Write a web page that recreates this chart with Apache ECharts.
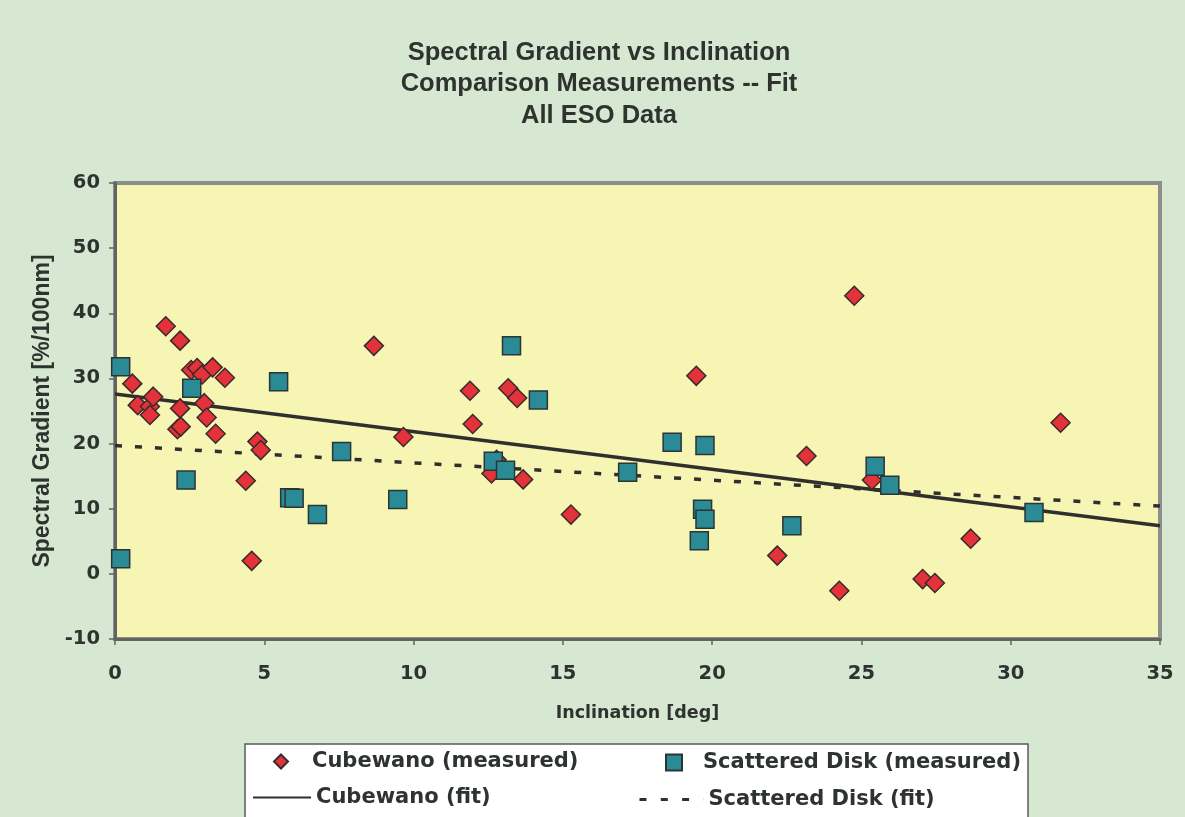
<!DOCTYPE html>
<html>
<head>
<meta charset="utf-8">
<title>Spectral Gradient vs Inclination</title>
<script src="https://cdn.jsdelivr.net/npm/echarts@6/dist/echarts.min.js"></script>
<style>
  html, body { margin: 0; padding: 0; background: #d6e8d2; }
  #chart { width: 1185px; height: 817px; }
</style>
</head>
<body>
<div id="chart"></div>
<script>
// inclination [deg], spectral gradient [%/100nm]
var cubewano = [
  [0.58, 29.2], [0.76, 25.9], [1.17, 25.7], [1.17, 24.4], [1.28, 27.2],
  [1.70, 38.0], [2.09, 22.2], [2.20, 22.6], [2.18, 35.8], [2.18, 25.4],
  [2.55, 31.3], [2.75, 31.6], [2.92, 30.6], [2.99, 26.2], [3.07, 24.0],
  [3.27, 31.7], [3.37, 21.5], [3.68, 30.1], [4.38, 14.3], [4.58, 2.0],
  [4.77, 20.3], [4.88, 19.0], [8.67, 35.0], [9.66, 21.0], [11.89, 28.1],
  [11.98, 23.0], [12.61, 15.4], [12.78, 17.5], [13.17, 28.5], [13.47, 27.0],
  [13.67, 14.5], [15.27, 9.1], [19.47, 30.4], [22.18, 2.8], [23.16, 18.1],
  [24.26, -2.6], [24.76, 42.7], [25.35, 14.4], [27.05, -0.8], [27.46, -1.4],
  [28.66, 5.4], [31.67, 23.2]
]
var scattered = [
  [0.19, 31.8], [0.19, 2.3], [2.38, 14.4], [2.57, 28.5], [5.48, 29.5],
  [5.85, 11.7], [6.00, 11.6], [6.78, 9.1], [7.59, 18.8], [9.47, 11.4],
  [12.67, 17.3], [13.08, 15.9], [13.28, 35.0], [14.18, 26.7], [17.17, 15.6],
  [18.66, 20.2], [19.57, 5.1], [19.68, 9.9], [19.76, 8.4], [19.76, 19.7],
  [22.67, 7.4], [25.46, 16.5], [25.95, 13.6], [30.78, 9.4]
]
// linear fits, end points at 0 and 35 deg
var cubewanoFit = [[0, 27.6], [35, 7.4]]
var scatteredFit = [[0, 19.7], [35, 10.4]]

var titleLines = ['Spectral Gradient vs Inclination', 'Comparison Measurements -- Fit', 'All ESO Data']

var font = '"DejaVu Sans", "Liberation Sans", Arial, sans-serif'
var arial = '"Liberation Sans", Arial, Helvetica, sans-serif'
var textColor = '#2e332f'

// legend entries sit in a hand placed box, one legend component per entry
function legendText(padLeft) {
  return {
    fontFamily: font,
    fontSize: 21,
    fontWeight: 'bold',
    color: textColor,
    padding: [0, 0, 0, padLeft]
  }
}
var hiddenDot = { color: 'rgba(0,0,0,0)', borderWidth: 0, opacity: 0 }

var chart = echarts.init(document.getElementById('chart'))
var option = {
  backgroundColor: '#d6e8d2',
  textStyle: { fontFamily: font },
  title: {
    text: titleLines.join('\n'),
    left: 594,
    top: 32,
    textAlign: 'center',
    textStyle: {
      fontFamily: arial,
      fontSize: 25.5,
      fontWeight: 'bold',
      color: textColor,
      lineHeight: 31.5
    }
  },
  grid: {
    left: 115,
    top: 183,
    right: 25,
    bottom: 178,
    show: true,
    backgroundColor: '#f7f5b4',
    borderColor: '#8e8f8c',
    borderWidth: 4
  },
  xAxis: {
    type: 'value',
    min: 0,
    max: 35,
    interval: 5,
    name: 'Inclination [deg]',
    nameLocation: 'middle',
    nameGap: 65,
    nameTextStyle: { fontFamily: font, fontSize: 17.5, fontWeight: 'bold', color: textColor },
    axisLine: { onZero: false, lineStyle: { color: '#626461', width: 3 } },
    axisTick: { show: true, length: 6, lineStyle: { color: '#626461', width: 1.5 } },
    axisLabel: { margin: 25, fontFamily: font, fontSize: 19.5, fontWeight: 'bold', color: textColor },
    splitLine: { show: false }
  },
  yAxis: {
    type: 'value',
    min: -10,
    max: 60,
    interval: 10,
    name: 'Spectral Gradient [%/100nm]',
    nameLocation: 'middle',
    nameGap: 61,
    nameTextStyle: { fontFamily: arial, fontSize: 23, fontWeight: 'bold', color: textColor },
    axisLine: { show: true, onZero: false, lineStyle: { color: '#626461', width: 3 } },
    axisTick: { show: true, length: 6, lineStyle: { color: '#626461', width: 1.5 } },
    axisLabel: { margin: 15, fontFamily: font, fontSize: 19.5, fontWeight: 'bold', color: textColor },
    splitLine: { show: false }
  },
  legend: [
    {
      data: ['Cubewano (measured)'],
      left: 273, top: 751, padding: 0,
      itemWidth: 14, itemHeight: 14,
      textStyle: legendText(19)
    },
    {
      data: [{ name: 'Cubewano (fit)', itemStyle: hiddenDot }],
      left: 252, top: 787, padding: 0,
      itemWidth: 58, itemHeight: 14,
      textStyle: legendText(0)
    },
    {
      data: ['Scattered Disk (measured)'],
      left: 665, top: 752, padding: 0,
      itemWidth: 16, itemHeight: 16,
      textStyle: legendText(16)
    },
    {
      data: [{ name: 'Scattered Disk (fit)', lineStyle: { type: [7, 14.3], width: 3 }, itemStyle: hiddenDot }],
      left: 638, top: 789, padding: 0,
      itemWidth: 64, itemHeight: 14,
      textStyle: legendText(0)
    }
  ],
  graphic: [
    {
      type: 'rect',
      z: -1,
      shape: { x: 245, y: 744, width: 783, height: 90 },
      style: { fill: '#ffffff', stroke: '#5a5c5a', lineWidth: 1.5 }
    }
  ],
  series: [
    {
      name: 'Cubewano (fit)',
      type: 'line',
      data: cubewanoFit,
      symbol: 'none',
      lineStyle: { color: '#2f302e', width: 3.5 },
      itemStyle: { color: '#2f302e' },
      z: 1
    },
    {
      name: 'Scattered Disk (fit)',
      type: 'line',
      data: scatteredFit,
      symbol: 'none',
      lineStyle: { color: '#2f302e', width: 3.5, type: [7, 13] },
      itemStyle: { color: '#2f302e' },
      z: 1
    },
    {
      name: 'Cubewano (measured)',
      type: 'scatter',
      data: cubewano,
      symbol: 'diamond',
      symbolSize: 19,
      itemStyle: { color: '#e3323a', borderColor: '#3a2b2b', borderWidth: 1.5, opacity: 1 },
      z: 2
    },
    {
      name: 'Scattered Disk (measured)',
      type: 'scatter',
      data: scattered,
      symbol: 'rect',
      symbolSize: 18,
      itemStyle: { color: '#2a8a95', borderColor: '#2b3534', borderWidth: 1.5, opacity: 1 },
      z: 3
    }
  ]
}
chart.setOption(option)
</script>
</body>
</html>
